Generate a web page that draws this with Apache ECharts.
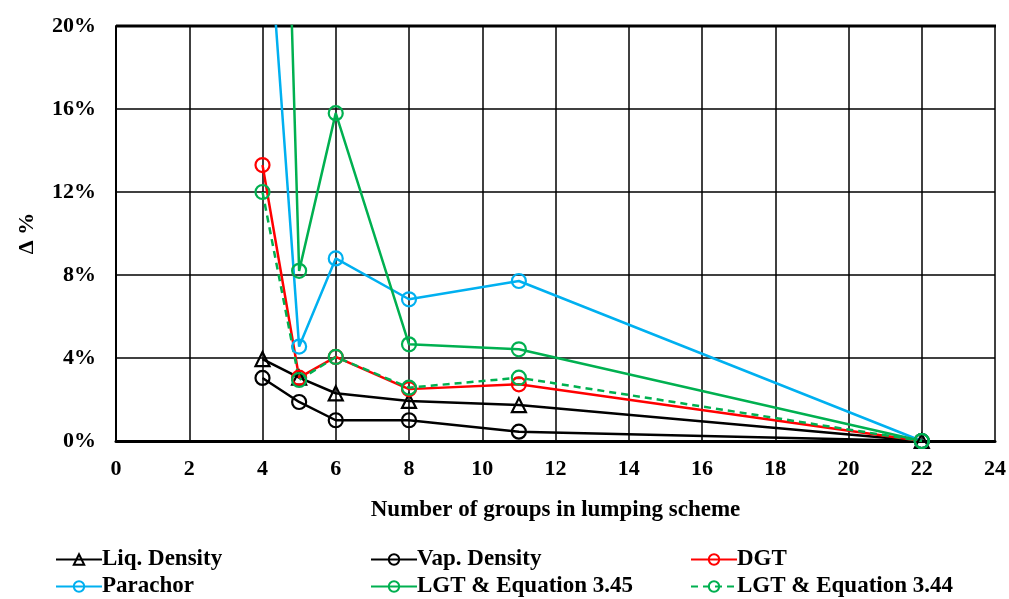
<!DOCTYPE html>
<html><head><meta charset="utf-8">
<script src="https://cdn.jsdelivr.net/npm/echarts@6/dist/echarts.min.js"></script>
<style>html,body{margin:0;padding:0;background:#fff}#c{width:1009px;height:599px}</style>
</head><body><div id="c"></div>
<script>
const groups = [4, 5, 6, 8, 11, 22];
const liqDensity = [3.95, 3.05, 2.3, 1.93, 1.73, 0];
const vapDensity = [3.04, 1.88, 1.0, 1.0, 0.45, 0];
const dgt = [13.3, 3.05, 4.05, 2.5, 2.73, 0];
const parachor = [29.0, 4.55, 8.8, 6.83, 7.71, 0];
const lgt345 = [68.0, 8.2, 15.8, 4.66, 4.42, 0];
const lgt344 = [12.0, 2.94, 4.05, 2.57, 3.05, 0];
const xTicks = [0, 24, 2];
const yTicks = [0, 20, 4];

const font = '"Liberation Serif", "Times New Roman", serif';
function mk(name, vals, color, symbol, dashed) {
  return {
    name, type: 'line', data: groups.map((g, i) => [g, vals[i]]),
    symbol, symbolSize: symbol === 'triangle' ? 14 : 14,
    showSymbol: true, clip: true,
    lineStyle: { color, width: 2.5, type: dashed ? [7, 5] : 'solid' },
    itemStyle: { color: 'rgba(255,255,255,0)', borderColor: color, borderWidth: 2.2 },
    emphasis: { disabled: true }, animation: false
  };
}
const series = [
  mk('Liq. Density', liqDensity, '#000000', 'triangle'),
  mk('Vap. Density', vapDensity, '#000000', 'circle'),
  mk('DGT', dgt, '#FF0000', 'circle'),
  mk('Parachor', parachor, '#00B0F0', 'circle'),
  mk('LGT & Equation 3.45', lgt345, '#00B050', 'circle'),
  mk('LGT & Equation 3.44', lgt344, '#00B050', 'circle', true)
];
const legendPos = [
  ['Liq. Density', 55, 548], ['Vap. Density', 370, 548], ['DGT', 690, 548],
  ['Parachor', 55, 575], ['LGT & Equation 3.45', 370, 575], ['LGT & Equation 3.44', 690, 575]
];
const legends = legendPos.map(([n, l, t]) => ({
  left: l, top: t, padding: 0, itemWidth: 46, itemHeight: 13, itemGap: 0,
  textStyle: { fontFamily: font, fontWeight: 'bold', fontSize: 23, color: '#000', padding: [0, 0, 0, -5] },
  selectedMode: false, data: [n]
}));
const chart = echarts.init(document.getElementById('c'), null, { renderer: 'canvas' });
chart.setOption({
  animation: false,
  grid: { left: 116, right: 13, top: 26, bottom: 158, show: false },
  xAxis: {
    type: 'value', min: xTicks[0], max: xTicks[1], interval: xTicks[2],
    name: 'Number of groups in lumping scheme', nameLocation: 'middle', nameGap: 58,
    nameTextStyle: { fontFamily: font, fontWeight: 'bold', fontSize: 23, color: '#000' },
    axisLine: { show: true, lineStyle: { color: '#000', width: 3 } },
    axisTick: { show: false },
    axisLabel: { fontFamily: font, fontWeight: 'bold', fontSize: 22, color: '#000', margin: 17 },
    splitLine: { show: true, lineStyle: { color: '#000', width: 1.5 } }
  },
  yAxis: {
    type: 'value', min: yTicks[0], max: yTicks[1], interval: yTicks[2],
    name: 'Δ %', nameLocation: 'middle', nameGap: 78, nameRotate: 90,
    nameTextStyle: { fontFamily: font, fontWeight: 'bold', fontSize: 22, color: '#000' },
    axisLine: { show: true, lineStyle: { color: '#000', width: 2 } },
    axisTick: { show: false },
    axisLabel: { fontFamily: font, fontWeight: 'bold', fontSize: 22, color: '#000', margin: 20, formatter: '{value}%' },
    splitLine: { show: true, lineStyle: { color: '#000', width: 1.5 } }
  },
  legend: legends,
  graphic: [{ type: 'line', shape: { x1: 116, y1: 26, x2: 996, y2: 26 }, style: { stroke: '#000', lineWidth: 3 } }],
  series
});
</script></body></html>
